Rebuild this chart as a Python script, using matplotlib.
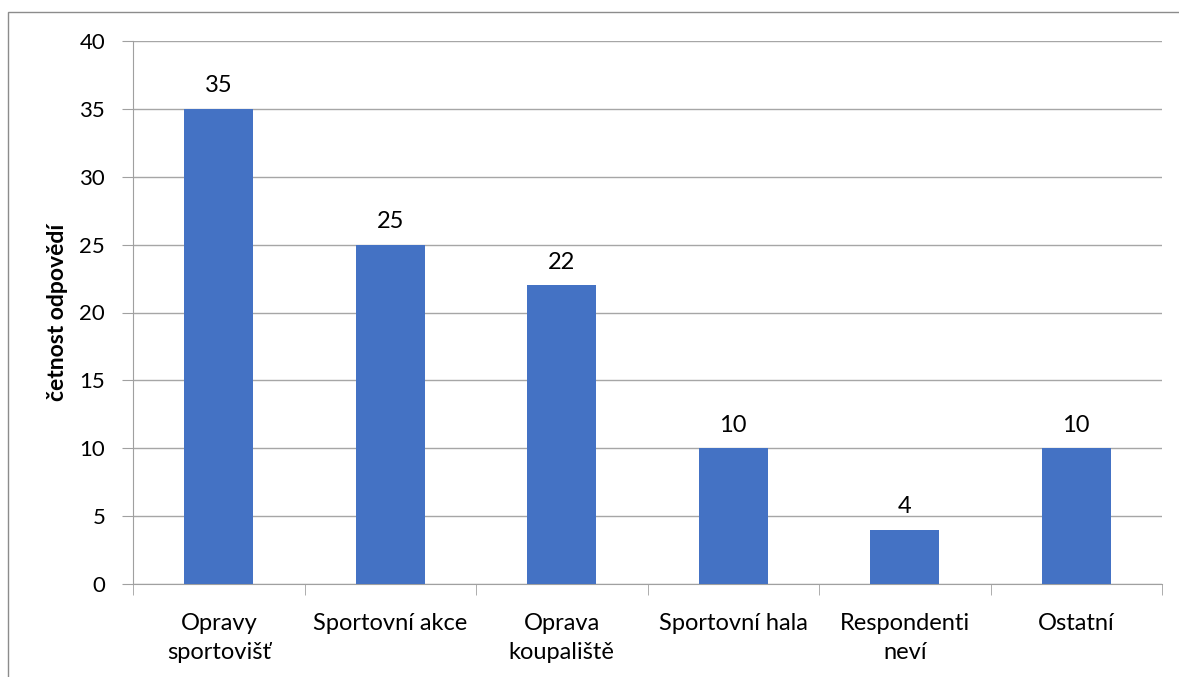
import matplotlib
matplotlib.use('Agg')
import matplotlib.pyplot as plt
from matplotlib.patches import Rectangle
import numpy as np

# Odpovědi respondentů - data z grafu
categories = ['Opravy\nsportovišť', 'Sportovní akce', 'Oprava\nkoupaliště',
              'Sportovní hala', 'Respondenti\nneví', 'Ostatní']
counts = [35, 25, 22, 10, 4, 10]
y_ticks = [0, 5, 10, 15, 20, 25, 30, 35, 40]

plt.rcParams['font.family'] = ['Lato', 'DejaVu Sans']

fig = plt.figure(figsize=(11.79, 6.77), dpi=100)
ax = fig.add_axes([133 / 1179, 1 - 584 / 677, 1029 / 1179, 543 / 677])

X = np.arange(len(categories))
ax.bar(X, counts, width=0.4, color='#4472C4', zorder=3)

# hodnoty nad sloupci
for xi, v in zip(X, counts):
    ax.annotate(str(v), (xi, v), xytext=(0, 9), textcoords='offset points',
                ha='center', va='bottom', fontsize=17)

ax.set_xlim(-0.5, len(categories) - 0.5)
ax.set_ylim(0, 40)
ax.set_yticks(y_ticks)
ax.tick_params(axis='y', labelsize=16, length=8, color='#A0A0A0', pad=12)
ax.yaxis.grid(True, color='#A6A6A6', linewidth=1, zorder=0)

# popisky kategorií mezi značkami
ax.set_xticks(X)
ax.set_xticklabels(categories, fontsize=17, linespacing=1.45)
ax.tick_params(axis='x', length=0, pad=21)
ax.set_xticks(np.arange(len(categories) + 1) - 0.5, minor=True)
ax.tick_params(axis='x', which='minor', length=8, color='#A0A0A0')

for side in ['top', 'right']:
    ax.spines[side].set_visible(False)
ax.spines['left'].set_color('#A0A0A0')
ax.spines['bottom'].set_color('#A0A0A0')

# popis osy y
fig.text(57 / 1179, 1 - 312 / 677, 'četnost odpovědí', rotation=90,
         ha='center', va='center', fontsize=16.5, fontweight='bold')

# rámeček grafu
fig.add_artist(Rectangle((8 / 1179, -0.1), 1.1, 1 - 12 / 677 + 0.1,
                         transform=fig.transFigure, fill=False,
                         edgecolor='#8C8C8C', linewidth=1))

fig.savefig('out.png', dpi=100)
